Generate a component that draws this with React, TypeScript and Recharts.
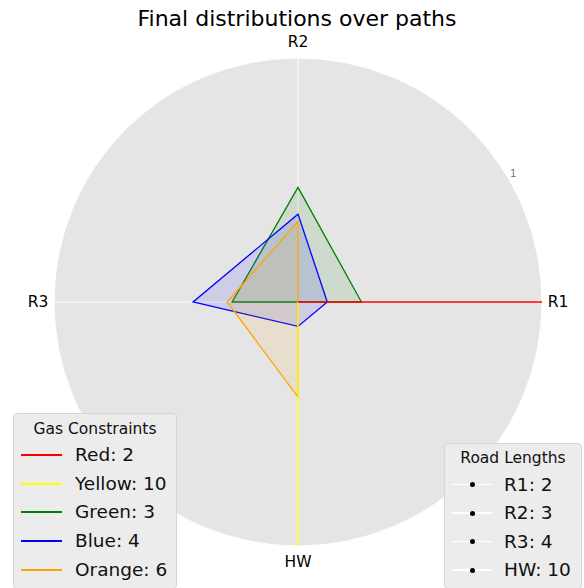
import { RadarChart, Radar, PolarGrid, PolarAngleAxis, PolarRadiusAxis } from "recharts";

document.body.style.margin = "0";

const paths = ["R1", "R2", "R3", "HW"];
// recharts runs clockwise; this order puts R1 right, R2 top, R3 left, HW bottom
const chartOrder = ["R1", "HW", "R3", "R2"];

// share of agents on each path (R1, R2, R3, HW), per gas constraint group
const red = [1, 0, 0, 0];
const yellow = [0, 0, 0, 1];
const green = [0.26, 0.47, 0.27, 0];
const blue = [0.12, 0.36, 0.43, 0.1];
const orange = [0, 0.33, 0.29, 0.39];

const gasNames = ["Red", "Yellow", "Green", "Blue", "Orange"];
const gasLimits = [2, 10, 3, 4, 6];
const roadLengths = [2, 3, 4, 10];

const series = [
  { key: "red", color: "#ff0000", values: red },
  { key: "yellow", color: "#ffff00", values: yellow },
  { key: "green", color: "#008000", values: green },
  { key: "blue", color: "#0000ff", values: blue },
  { key: "orange", color: "#ffa500", values: orange },
];

// red sits on top of the others in the original
const drawOrder = ["green", "blue", "orange", "yellow", "red"];

const data = chartOrder.map((p) => {
  const i = paths.indexOf(p);
  const row: Record<string, string | number> = { path: p };
  series.forEach((s) => (row[s.key] = s.values[i]));
  return row;
});

const FONT = "'DejaVu Sans', sans-serif";
const CX = 298;
const CY = 302;
const R = 244;

const boxStyle: React.CSSProperties = {
  position: "absolute",
  background: "#ececec",
  border: "1px solid #d6d6d6",
  borderRadius: 4,
  boxSizing: "border-box",
  fontFamily: FONT,
  color: "#111",
};

function AngleTick(props: any) {
  const { x, y, payload } = props;
  return (
    <text x={x} y={y} textAnchor="middle" dominantBaseline="central" fontSize={15.5} fontFamily={FONT} fill="#000">
      {payload.value}
    </text>
  );
}

function RadiusTick(props: any) {
  const { x, y, payload } = props;
  if (payload.value !== 1) return null;
  return (
    <text x={x + 6} y={y - 3} textAnchor="middle" dominantBaseline="central" fontSize={10} fontFamily={FONT} fill="#777">
      1
    </text>
  );
}

export default function App() {
  return (
    <div style={{ position: "relative", width: 584, height: 588, background: "#fff", overflow: "hidden" }}>
      <div
        style={{
          position: "absolute",
          left: CX - R,
          top: CY - R,
          width: R * 2,
          height: R * 2,
          borderRadius: "50%",
          background: "#e5e5e5",
        }}
      />
      <div style={{ position: "absolute", left: 0, top: 0 }}>
        <RadarChart
          width={584}
          height={588}
          data={data}
          cx={CX}
          cy={CY}
          outerRadius={R}
          startAngle={0}
          endAngle={-360}
          margin={{ top: 0, right: 0, bottom: 0, left: 0 }}
        >
          <text x={297} y={26} textAnchor="middle" fontSize={22} fontFamily={FONT} fill="#000">
            Final distributions over paths
          </text>
          <PolarGrid gridType="circle" stroke="#ffffff" strokeWidth={1} />
          <PolarAngleAxis dataKey="path" tick={<AngleTick />} tickLine={false} axisLine={false} tickSize={16} />
          <PolarRadiusAxis angle={31} domain={[0, 1]} tickCount={2} axisLine={false} tick={<RadiusTick />} />
          {drawOrder.map((k) => {
            const s = series.find((x) => x.key === k)!;
            return (
              <Radar
                key={s.key}
                dataKey={s.key}
                stroke={s.color}
                strokeWidth={1.3}
                fill={s.color}
                fillOpacity={0.1}
                dot={false}
                isAnimationActive={false}
              />
            );
          })}
        </RadarChart>
      </div>

      <div style={{ ...boxStyle, left: 13, top: 413, width: 164, height: 176 }}>
        <div style={{ position: "absolute", left: 0, right: 0, top: 4, textAlign: "center", fontSize: 15.5, lineHeight: "22px" }}>
          Gas Constraints
        </div>
        {gasNames.map((n, i) => (
          <div key={n} style={{ position: "absolute", left: 0, top: 41 + i * 28.7 - 14, height: 28, width: "100%" }}>
            <div style={{ position: "absolute", left: 7, top: 13, width: 41, height: 2, background: series[i].color }} />
            <div style={{ position: "absolute", left: 61, top: 0, fontSize: 18.5, lineHeight: "28px", whiteSpace: "nowrap" }}>
              {n}: {gasLimits[i]}
            </div>
          </div>
        ))}
      </div>

      <div style={{ ...boxStyle, left: 444, top: 443, width: 138, height: 146 }}>
        <div style={{ position: "absolute", left: 0, right: 0, top: 3, textAlign: "center", fontSize: 15.5, lineHeight: "22px" }}>
          Road Lengths
        </div>
        {paths.map((p, i) => (
          <div key={p} style={{ position: "absolute", left: 0, top: 40.5 + i * 28.5 - 14, height: 28, width: "100%" }}>
            <div style={{ position: "absolute", left: 7, top: 13, width: 40, height: 1.5, background: "#fff" }} />
            <div style={{ position: "absolute", left: 25, top: 11.5, width: 5, height: 5, borderRadius: "50%", background: "#000" }} />
            <div style={{ position: "absolute", left: 59, top: 0, fontSize: 18.5, lineHeight: "28px", whiteSpace: "nowrap" }}>
              {p}: {roadLengths[i]}
            </div>
          </div>
        ))}
      </div>
    </div>
  );
}
